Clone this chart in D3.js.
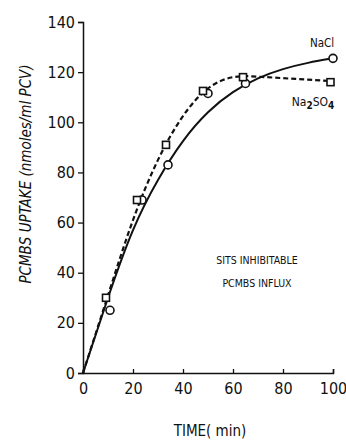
<!DOCTYPE html>
<html><head><meta charset="utf-8">
<script src="https://cdn.jsdelivr.net/npm/d3@7"></script>
<style>
html,body{margin:0;padding:0;background:#fff;}
svg{display:block;}
text{font-family:"DejaVu Sans Condensed","Liberation Sans Narrow","DejaVu Sans",sans-serif;fill:#111;}
</style></head>
<body>
<script>
// Data
const xTicks = [0, 20, 40, 60, 80, 100];
const yTicks = [0, 20, 40, 60, 80, 100, 120, 140];
// measured points
const naclTime = [10.8, 23.6, 34, 50, 65, 100];
const naclUptake = [25, 69, 83, 111.5, 115.5, 125.5];
const na2so4Time = [9.2, 21.6, 33.2, 48, 64, 99];
const na2so4Uptake = [30, 69, 91, 112.5, 118, 116];
// fitted curves as drawn
const curveTime = [0, 10, 20, 30, 40, 50, 60, 70, 80, 90, 100];
const naclCurveUptake = [0, 30, 57, 77, 92.5, 104, 112, 117.5, 121.2, 123.7, 125.5];
const na2so4CurveUptake = [0, 31, 61, 85, 102.5, 113.5, 118, 118.2, 117.6, 117, 116.4];

const W = 346, H = 440;
const svg = d3.select("body").append("svg").attr("width", W).attr("height", H);
const x = d3.scaleLinear().domain([0, 100]).range([83, 333]);
const y = d3.scaleLinear().domain([0, 140]).range([373, 22]);

// axes
const xAxis = svg.append("g").attr("transform", `translate(0,${y(0)})`)
  .call(d3.axisBottom(x).tickValues(xTicks).tickSize(-4).tickPadding(10));
const yAxis = svg.append("g").attr("transform", `translate(${x(0)},0)`)
  .call(d3.axisLeft(y).tickValues(yTicks).tickSize(5).tickPadding(3));
[xAxis, yAxis].forEach(g => {
  g.select(".domain").attr("stroke", "#111").attr("stroke-width", 1.5);
  g.selectAll(".tick line").attr("stroke", "#111").attr("stroke-width", 1.3);
  g.selectAll("text").style("font-size", "16px").attr("fill", "#111");
});
xAxis.selectAll("text").attr("dy", "0.71em");

const line = d3.line().x(d => x(d[0])).y(d => y(d[1])).curve(d3.curveNatural);
const naclCurve = curveTime.map((t, i) => [t, naclCurveUptake[i]]);
const na2Curve = curveTime.map((t, i) => [t, na2so4CurveUptake[i]]);

svg.append("path").attr("d", line(na2Curve)).attr("fill", "none")
  .attr("stroke", "#111").attr("stroke-width", 2.2).attr("stroke-dasharray", "5,3");
svg.append("path").attr("d", line(naclCurve)).attr("fill", "none")
  .attr("stroke", "#111").attr("stroke-width", 2);

// markers
svg.selectAll("circle.nacl").data(naclTime.map((t, i) => [t, naclUptake[i]])).join("circle")
  .attr("class", "nacl").attr("cx", d => x(d[0])).attr("cy", d => y(d[1])).attr("r", 4)
  .attr("fill", "#fff").attr("stroke", "#111").attr("stroke-width", 1.6);
svg.selectAll("rect.na2").data(na2so4Time.map((t, i) => [t, na2so4Uptake[i]])).join("rect")
  .attr("class", "na2").attr("x", d => x(d[0]) - 3.5).attr("y", d => y(d[1]) - 3.5)
  .attr("width", 7).attr("height", 7)
  .attr("fill", "#fff").attr("stroke", "#111").attr("stroke-width", 1.6);

// labels
svg.append("text").attr("x", 322).attr("y", 47).attr("text-anchor", "middle")
  .style("font-size", "11.5px").text("NaCl");
const t2 = svg.append("text").attr("x", 313).attr("y", 106).attr("text-anchor", "middle")
  .style("font-size", "12px");
t2.append("tspan").text("Na");
t2.append("tspan").attr("dy", 3).style("font-size", "10px").style("font-weight", "bold").text("2");
t2.append("tspan").attr("dy", -3).text("SO");
t2.append("tspan").attr("dy", 3).style("font-size", "10px").style("font-weight", "bold").text("4");

svg.append("text").attr("x", 257).attr("y", 264).attr("text-anchor", "middle")
  .style("font-size", "10.5px").text("SITS  INHIBITABLE");
svg.append("text").attr("x", 257).attr("y", 287).attr("text-anchor", "middle")
  .style("font-size", "10.5px").text("PCMBS  INFLUX");

svg.append("text").attr("x", 210).attr("y", 436).attr("text-anchor", "middle")
  .style("font-size", "15px").text("TIME( min)");
svg.append("text").attr("transform", "translate(31,174) rotate(-90)").attr("text-anchor", "middle")
  .style("font-size", "15px").style("font-style", "italic")
  .text("PCMBS UPTAKE (nmoles/ml PCV)");
</script>
</body></html>
